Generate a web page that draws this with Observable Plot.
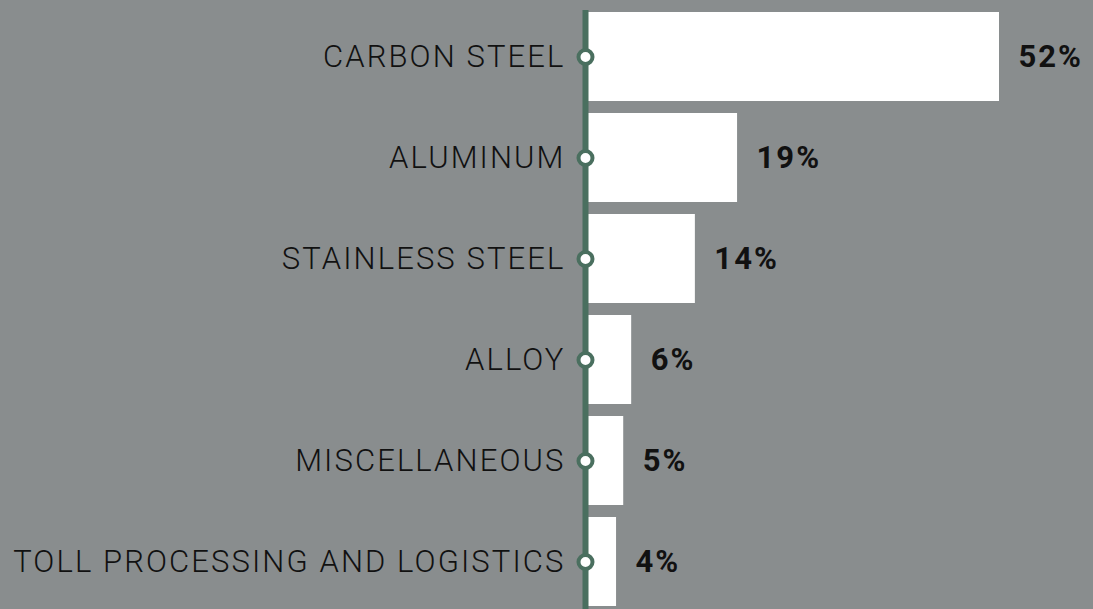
<!DOCTYPE html>
<html>
<head>
<meta charset="utf-8">
<script src="https://cdn.jsdelivr.net/npm/d3@7"></script>
<script src="https://cdn.jsdelivr.net/npm/@observablehq/plot@0.6"></script>
<style>
  html, body { margin: 0; padding: 0; background: #898d8e; }
  #chart svg { display: block; }
</style>
</head>
<body>
<div id="chart"></div>
<script>
const categories = ["CARBON STEEL", "ALUMINUM", "STAINLESS STEEL", "ALLOY", "MISCELLANEOUS", "TOLL PROCESSING AND LOGISTICS"];
const values = [52, 19.1, 13.8, 5.8, 4.8, 3.9];
const valueLabels = ["52%", "19%", "14%", "6%", "5%", "4%"];

const data = categories.map((c, i) => ({category: c, value: values[i], label: valueLabels[i]}));

const gray = "#898d8e";
const green = "#4a6f5f";

function spaced(px) {
  return (index, scales, values, dimensions, context, next) => {
    const g = next(index, scales, values, dimensions, context);
    g.style.letterSpacing = px;
    return g;
  };
}

const chart = Plot.plot({
  width: 1093,
  height: 609,
  marginLeft: 585,
  marginRight: 94,
  marginTop: 10,
  marginBottom: 0,
  style: {background: gray, color: "#111", overflow: "visible"},
  x: {domain: [0, 52], axis: null},
  y: {domain: categories, paddingInner: 0.118, paddingOuter: 0, axis: null},
  marks: [
    Plot.barX(data, {x: "value", y: "category", fill: "white"}),
    Plot.ruleX([0], {stroke: green, strokeWidth: 6}),
    Plot.dot(data, {x: 0, y: "category", r: 7, fill: "white", stroke: green, strokeWidth: 4}),
    Plot.text(data, {x: 0, y: "category", text: "category", textAnchor: "end", dx: -20, fontSize: 31, fontWeight: 300, fontFamily: "Roboto", fill: "#111", render: spaced("2.1px")}),
    Plot.text(data, {x: "value", y: "category", text: "label", textAnchor: "start", dx: 19, fontSize: 31, fontWeight: "bold", fontFamily: "Roboto", fill: "#111", render: spaced("2px")})
  ]
});
document.getElementById("chart").appendChild(chart);
// fallback in case the render option is unavailable
d3.select(chart).selectAll("text").each(function() {
  const t = this.textContent;
  if (categories.includes(t) && !this.parentNode.style.letterSpacing) this.style.letterSpacing = "2.1px";
  if (valueLabels.includes(t) && !this.parentNode.style.letterSpacing) this.style.letterSpacing = "2px";
});
</script>
</body>
</html>
